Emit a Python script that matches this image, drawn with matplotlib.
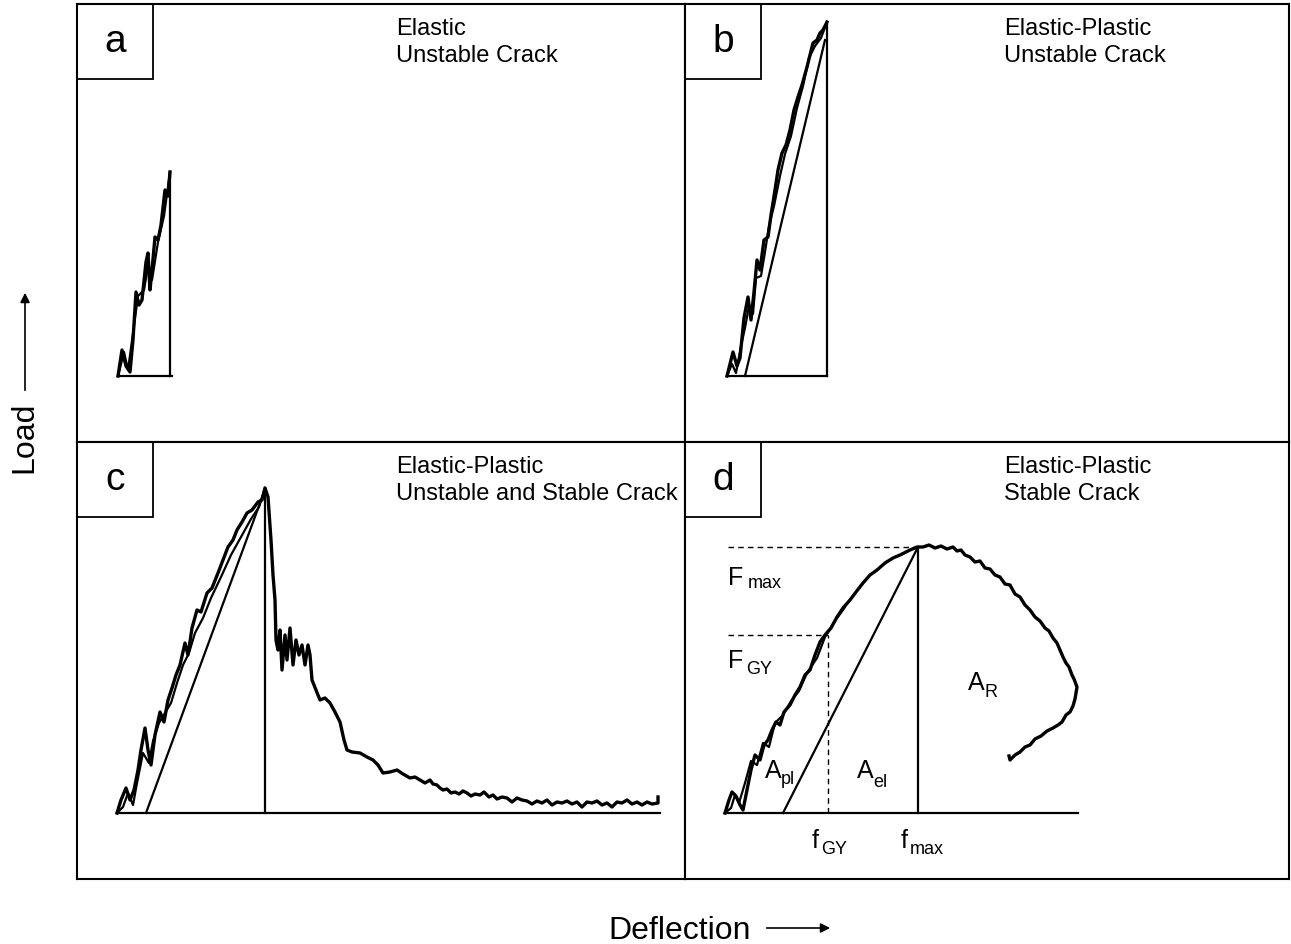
import matplotlib.pyplot as plt
from matplotlib.patches import Rectangle, FancyArrowPatch

plt.rcParams['font.family'] = ['Liberation Sans', 'DejaVu Sans']

W, H = 1291, 944

# ---- panel a: elastic, unstable crack
a_defl = [0, 4, 8, 12, 15, 18, 21, 24, 28, 30, 32, 34, 37, 40, 43, 47, 50, 52]
a_load = [0, 26, 10, 4, 36, 84, 71, 76, 114, 123, 86, 106, 139, 136, 151, 186, 180, 204]
a_defl2 = [0, 6, 10, 16, 20, 26, 30, 34, 40, 46, 52]
a_load2 = [0, 24, 6, 50, 80, 86, 110, 96, 134, 160, 204]
a_fmax, a_Fmax, a_end = 52, 204, 54

# ---- panel b: elastic-plastic, unstable crack
b_defl = [0, 6, 10, 13, 17, 21, 24, 27, 30, 33, 37, 41, 44, 48, 51, 55, 59, 63, 67,
          71, 75, 80, 83, 86, 90, 93, 96, 99, 100]
b_load = [0, 24, 10, 18, 58, 79, 56, 84, 116, 106, 136, 139, 161, 186, 206, 223, 231,
          246, 266, 279, 291, 309, 321, 333, 336, 343, 346, 352, 354]
b_defl2 = [0, 5, 9, 14, 18, 22, 26, 29, 34, 38, 42, 47, 53, 58, 64, 70, 76, 82, 88, 94, 100]
b_load2 = [0, 12, 3, 30, 48, 70, 62, 98, 100, 124, 150, 170, 200, 222, 240, 268, 290,
           318, 330, 338, 354]
b_el_defl = [18, 98]
b_el_load = [0, 336]
b_fmax, b_Fmax, b_end = 100, 354, 100

# ---- panel c: elastic-plastic, unstable and stable crack
c_defl = [0, 4, 9, 13, 17, 21, 24, 28, 31, 34, 38, 43, 47, 51, 55, 59, 63, 68, 71, 75,
          80, 84, 90, 95, 101, 106, 111, 116, 120, 125, 130, 135, 141, 145, 148,
          151, 154, 156, 158, 159, 161, 163, 165, 168, 170, 173, 176, 179, 182, 185,
          188, 191, 193, 195, 199, 203, 208, 213, 218, 223, 227, 230, 235, 243, 250,
          256, 261, 266, 273, 280, 286, 293, 298,
          303, 308, 313, 316, 320, 323, 326, 330, 334, 338, 342, 346, 350, 354, 358,
          363, 367, 372, 376, 380, 385, 390, 395, 400, 405, 410, 415, 420, 425, 430,
          435, 440, 445, 450, 455, 460, 465, 470, 475, 480, 485, 490, 495, 500, 505,
          510, 515, 520, 525, 530, 535, 541, 541]
c_load = [0, 13, 25, 13, 23, 43, 63, 85, 63, 48, 78, 101, 91, 113, 125, 138, 148, 170,
          158, 185, 203, 201, 220, 225, 240, 253, 266, 273, 283, 291, 300, 303, 311,
          313, 325, 316, 273, 238, 213, 173, 163, 183, 143, 178, 153, 185, 148, 173,
          158, 168, 148, 168, 158, 133, 123, 113, 115, 110, 101, 91, 73, 63, 61, 60,
          56, 53, 48, 40, 41, 43, 39, 35, 36,
          33, 30, 33, 29, 28, 25, 23, 24, 20, 21, 19, 22, 20, 17, 19,
          18, 21, 16, 18, 14, 16, 15, 11, 15, 13, 12, 9, 12, 10, 13,
          8, 11, 10, 12, 9, 11, 6, 11, 10, 12, 8, 10, 6, 11, 10,
          13, 9, 11, 8, 11, 9, 10, 16]
c_defl2 = [0, 6, 11, 16, 20, 26, 32, 36, 42, 48, 54, 60, 66, 72, 78, 86, 94, 104, 114,
           124, 134, 142, 148]
c_load2 = [0, 6, 20, 8, 30, 60, 50, 72, 90, 100, 110, 130, 148, 160, 180, 195, 215,
           236, 258, 276, 294, 306, 325]
c_el_defl = [29, 146]
c_el_load = [0, 318]
c_fmax, c_Fmax, c_end = 148, 325, 543

# ---- panel d: elastic-plastic, stable crack
d_defl = [0, 4, 7, 11, 15, 18, 22, 26, 30, 35, 39, 43, 47, 51, 55, 59, 65, 70, 75, 80,
          85, 90, 95, 100, 106, 112, 118, 125, 131, 138, 145, 152, 160, 168, 175, 185,
          192,
          198, 204, 210, 216, 222, 228, 232, 236, 240, 245, 250, 255, 260, 265, 270,
          275, 280, 285, 290, 295, 300, 305, 310, 315, 320, 324, 328, 332, 335, 338,
          341, 344, 347, 349, 352, 351, 350, 348, 345, 341, 337, 333, 328, 322, 316,
          310, 305, 300, 295, 290, 285, 284]
d_load = [0, 13, 21, 17, 8, 3, 23, 43, 58, 53, 68, 73, 83, 91, 88, 101, 108, 118, 126,
          138, 143, 158, 171, 178, 185, 196, 205, 213, 221, 230, 238, 243, 250, 255,
          258, 263, 266,
          266, 268, 265, 267, 264, 266, 262, 263, 258, 256, 251, 252, 245, 244, 238,
          236, 229, 228, 219, 216, 208, 203, 196, 192, 185, 182, 175, 170, 163, 156,
          150, 146, 138, 134, 126, 120, 114, 107, 101, 98, 91, 88, 85, 82, 77,
          74, 68, 66, 61, 58, 53, 57]
d_defl2 = [0, 6, 10, 14, 20, 26, 32, 38, 44, 50, 58, 66, 74, 82, 92, 100, 110, 120]
d_load2 = [0, 5, 18, 10, 30, 52, 48, 70, 66, 90, 98, 112, 122, 140, 155, 176, 192, 206]
d_el_defl = [58, 192]
d_el_load = [0, 264]
d_fgy, d_Fgy = 103, 178
d_fmax, d_Fmax, d_end = 193, 266, 353

titles = {'a': ('Elastic', 'Unstable Crack'),
          'b': ('Elastic-Plastic', 'Unstable Crack'),
          'c': ('Elastic-Plastic', 'Unstable and Stable Crack'),
          'd': ('Elastic-Plastic', 'Stable Crack')}

# panel box in pixels (left, top, right, bottom) and curve origin in pixels
layout = {'a': (77, 4, 685, 442, 118, 376),
          'b': (685, 4, 1289, 442, 727, 376),
          'c': (77, 442, 685, 879, 117, 813),
          'd': (685, 442, 1289, 879, 725, 813)}

fig = plt.figure(figsize=(W / 100, H / 100), dpi=100)


def ftext(x, y, s, size, **kw):
    fig.text(x / W, 1 - y / H, s, fontsize=size, **kw)


axes = {}
for key, (l, t, r, b, x0, y0) in layout.items():
    ax = fig.add_axes([l / W, 1 - b / H, (r - l) / W, (b - t) / H])
    ax.set_xlim(l - x0, r - x0)
    ax.set_ylim(y0 - b, y0 - t)
    ax.set_xticks([])
    ax.set_yticks([])
    for sp in ax.spines.values():
        sp.set_linewidth(1.5)
    bw, bh = 76 / (r - l), 75 / (b - t)
    ax.add_patch(Rectangle((0, 1 - bh), bw, bh, transform=ax.transAxes,
                           fill=False, lw=1.3, clip_on=False))
    ax.text(bw / 2, 1 - bh / 2, key, transform=ax.transAxes, fontsize=28,
            ha='center', va='center')
    ftext(l + 319, t + 31, titles[key][0], 17, va='baseline')
    ftext(l + 319, t + 58, titles[key][1], 17, va='baseline')
    axes[key] = ax

lw_curve, lw_thin = 2.4, 1.6

ax = axes['a']
ax.plot(a_defl, a_load, color='black', lw=lw_curve)
ax.plot(a_defl2, a_load2, color='black', lw=lw_thin)
ax.plot([a_fmax, a_fmax], [0, a_Fmax], color='black', lw=lw_thin)
ax.plot([0, a_end], [0, 0], color='black', lw=lw_thin)

ax = axes['b']
ax.plot(b_defl, b_load, color='black', lw=lw_curve)
ax.plot(b_defl2, b_load2, color='black', lw=lw_thin)
ax.plot(b_el_defl, b_el_load, color='black', lw=lw_thin)
ax.plot([b_fmax, b_fmax], [0, b_Fmax], color='black', lw=lw_thin)
ax.plot([0, b_end], [0, 0], color='black', lw=lw_thin)

ax = axes['c']
ax.plot(c_defl, c_load, color='black', lw=lw_curve)
ax.plot(c_defl2, c_load2, color='black', lw=lw_thin)
ax.plot(c_el_defl, c_el_load, color='black', lw=lw_thin)
ax.plot([c_fmax, c_fmax], [0, c_Fmax], color='black', lw=lw_thin)
ax.plot([0, c_end], [0, 0], color='black', lw=lw_thin)

ax = axes['d']
ax.plot(d_defl, d_load, color='black', lw=lw_curve)
ax.plot(d_defl2, d_load2, color='black', lw=lw_thin)
ax.plot(d_el_defl, d_el_load, color='black', lw=lw_thin)
ax.plot([d_fmax, d_fmax], [0, d_Fmax], color='black', lw=lw_thin)
ax.plot([0, d_end], [0, 0], color='black', lw=lw_thin)
ax.plot([3, d_fmax], [d_Fmax, d_Fmax], color='black', lw=1.0, ls=(0, (4, 3)))
ax.plot([3, d_fgy], [d_Fgy, d_Fgy], color='black', lw=1.0, ls=(0, (4, 3)))
ax.plot([d_fgy, d_fgy], [0, d_Fgy], color='black', lw=1.0, ls=(0, (4, 3)))

# symbols with subscripts in panel d
sym = [('F', 'max', 728, 585, 748, 588),
       ('F', 'GY', 728, 668, 746, 674),
       ('A', 'pl', 765, 778, 781, 784),
       ('A', 'el', 857, 778, 873, 787),
       ('A', 'R', 968, 690, 985, 697),
       ('f', 'GY', 812, 848, 821, 854),
       ('f', 'max', 901, 848, 910, 854)]
for main, sub, mx, my, sx, sy in sym:
    ftext(mx, my, main, 18, va='baseline')
    ftext(sx, sy, sub, 13, va='baseline')

# axis captions with arrows
ftext(680, 939, 'Deflection', 23, ha='center', va='baseline')
ftext(24, 437, 'Load', 23, ha='center', va='center', rotation=90)
fig.add_artist(FancyArrowPatch((764 / W, 1 - 928 / H), (833 / W, 1 - 928 / H),
                               transform=fig.transFigure, arrowstyle='-|>',
                               mutation_scale=14, lw=1.2, color='black'))
fig.add_artist(FancyArrowPatch((25 / W, 1 - 393 / H), (25 / W, 1 - 290 / H),
                               transform=fig.transFigure, arrowstyle='-|>',
                               mutation_scale=14, lw=1.2, color='black'))

fig.savefig('out.png', dpi=100)
